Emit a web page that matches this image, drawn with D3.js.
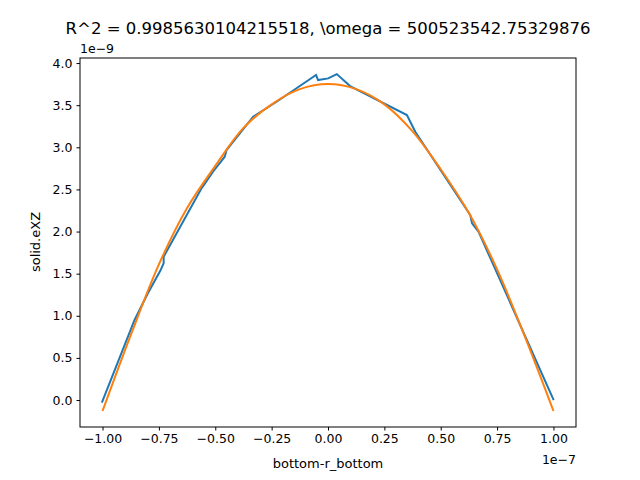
<!DOCTYPE html>
<html><head><meta charset="utf-8">
<script src="https://cdn.jsdelivr.net/npm/d3@7"></script>
<style>body{margin:0;background:#fff}text{font-family:"DejaVu Sans",sans-serif;}</style>
</head><body><svg id="c" width="640" height="480"></svg>
<script>
const blueX=[-1.003,-0.858,-0.799,-0.744,-0.729,-0.729,-0.561,-0.554,-0.510,-0.458,-0.450,-0.332,-0.228,-0.053,-0.044,0.001,0.039,0.098,0.350,0.387,0.631,0.639,0.668,1.001];
const blueY=[-0.032,0.950,1.267,1.534,1.623,1.701,2.514,2.540,2.710,2.888,2.967,3.363,3.541,3.858,3.798,3.818,3.869,3.727,3.383,3.185,2.196,2.097,1.997,0.0];
const orangeX=[-1,-0.875,-0.75,-0.625,-0.5,-0.375,-0.25,-0.125,0,0.125,0.25,0.375,0.5,0.625,0.75,0.875,1];
const orangeY=[-0.13,0.77,1.61,2.28,2.78,3.23,3.51,3.69,3.75,3.69,3.51,3.19,2.74,2.22,1.55,0.74,-0.13];
const xTicks=[-1,-0.75,-0.5,-0.25,0,0.25,0.5,0.75,1];
const yTicks=[0,0.5,1,1.5,2,2.5,3,3.5,4];
const L=80,R=576,T=58,B=427;
const svg=d3.select("#c");
const x=d3.scaleLinear().domain([-1.1,1.1]).range([L,R]);
const y=d3.scaleLinear().domain([-0.32,4.06]).range([B,T]);
const fmtX=d3.format(".2f"),fmtY=d3.format(".1f");
const xa=svg.append("g").attr("transform",`translate(0,${B})`).call(d3.axisBottom(x).tickValues(xTicks).tickFormat(d=>fmtX(d).replace("-","−")).tickSizeOuter(0).tickSize(3.5).tickPadding(4));
const ya=svg.append("g").attr("transform",`translate(${L},0)`).call(d3.axisLeft(y).tickValues(yTicks).tickFormat(d=>fmtY(d)).tickSizeOuter(0).tickSize(3.5).tickPadding(4));
[xa,ya].forEach(a=>{a.select(".domain").remove();a.selectAll("text").attr("font-size",12.5).attr("fill","#000").style("font-family","DejaVu Sans");a.selectAll("line").attr("stroke","#000");});
const line=d3.line().x(d=>x(d[0])).y(d=>y(d[1]));
svg.append("path").datum(blueX.map((v,i)=>[v,blueY[i]])).attr("d",line).attr("fill","none").attr("stroke","#1f77b4").attr("stroke-width",2);
svg.append("path").datum(orangeX.map((v,i)=>[v,orangeY[i]])).attr("d",line.curve(d3.curveCatmullRom)).attr("fill","none").attr("stroke","#ff7f0e").attr("stroke-width",2);
svg.append("rect").attr("x",L).attr("y",T).attr("width",R-L).attr("height",B-T).attr("fill","none").attr("stroke","#000").attr("stroke-width",1);
svg.append("text").attr("x",(L+R)/2).attr("y",34).attr("text-anchor","middle").attr("font-size",16.5).text("R^2 = 0.9985630104215518, \\omega = 500523542.75329876");
svg.append("text").attr("x",(L+R)/2).attr("y",468).attr("text-anchor","middle").attr("font-size",13).text("bottom-r_bottom");
svg.append("text").attr("transform","translate(40,242) rotate(-90)").attr("text-anchor","middle").attr("font-size",13).text("solid.eXZ");
svg.append("text").attr("x",L).attr("y",53).attr("font-size",12.5).text("1e−9");
svg.append("text").attr("x",R).attr("y",464).attr("text-anchor","end").attr("font-size",12.5).text("1e−7");
</script></body></html>
